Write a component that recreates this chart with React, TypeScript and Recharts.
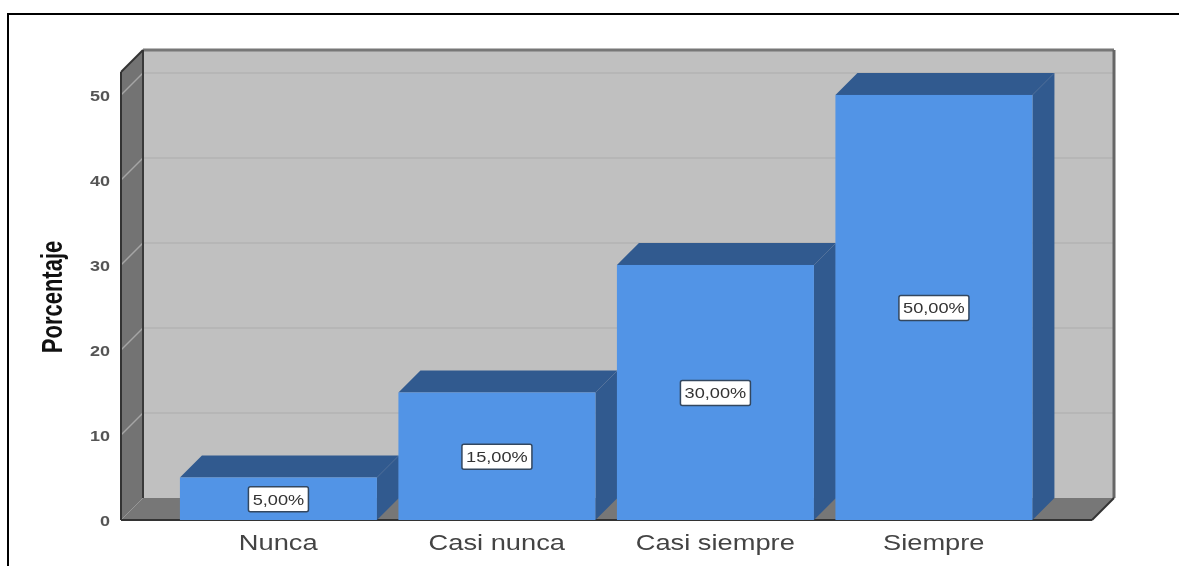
import { BarChart, Bar, XAxis, YAxis, LabelList, Customized } from "recharts";

const categories = ["Nunca", "Casi nunca", "Casi siempre", "Siempre"];
const percentages = [5, 15, 30, 50];
const percentLabels = ["5,00%", "15,00%", "30,00%", "50,00%"];
const yTicks = [0, 10, 20, 30, 40, 50];

const data = categories.map((name, i) => ({
  name,
  value: percentages[i],
  label: percentLabels[i],
}));

const FONT = "'Liberation Sans', Arial, sans-serif";
const DEPTH = 22;
const Y_MAX = 52.7;

// back wall, side wall and floor of the 3d box
const Box = (props: any) => {
  const left = props.offset?.left ?? 121;
  const top = props.offset?.top ?? 72;
  const width = props.offset?.width ?? 971;
  const height = props.offset?.height ?? 448;
  const right = left + width;
  const bottom = top + height;
  const d = DEPTH;
  return (
    <g>
      <rect x={left + d} y={top - d} width={width} height={height} fill="#c0c0c0" />
      <polygon
        points={`${left},${top} ${left + d},${top - d} ${left + d},${bottom - d} ${left},${bottom}`}
        fill="#737373"
      />
      <polygon
        points={`${left},${bottom} ${left + d},${bottom - d} ${right + d},${bottom - d} ${right},${bottom}`}
        fill="#777777"
      />
      {yTicks.slice(1).map((t) => {
        const y = bottom - (t / Y_MAX) * height;
        return (
          <g key={t}>
            <line x1={left + d} x2={right + d} y1={y - d} y2={y - d} stroke="#b6b6b6" strokeWidth={2} />
            <line x1={left} x2={left + d} y1={y} y2={y - d} stroke="#a5a5a5" strokeWidth={1.5} />
          </g>
        );
      })}
      <line x1={left + d} x2={right + d} y1={top - d} y2={top - d} stroke="#777777" strokeWidth={3} />
      <line x1={left + d} x2={left + d} y1={top - d} y2={bottom - d} stroke="#3a3a3a" strokeWidth={2} />
      <line x1={left} x2={left} y1={top} y2={bottom} stroke="#333333" strokeWidth={2} />
      <line x1={left} x2={left + d} y1={top} y2={top - d} stroke="#333333" strokeWidth={2} />
      <line x1={right + d} x2={right + d} y1={top - d} y2={bottom - d} stroke="#666666" strokeWidth={3} />
      <line x1={right} x2={right + d} y1={bottom} y2={bottom - d} stroke="#333333" strokeWidth={2} />
      <line x1={left} x2={right} y1={bottom} y2={bottom} stroke="#333333" strokeWidth={2} />
    </g>
  );
};

const Bar3D = ({ x, y, width, height }: any) => {
  const d = DEPTH;
  const r = x + width;
  const b = y + height;
  return (
    <g>
      <polygon points={`${x},${y} ${x + d},${y - d} ${r + d},${y - d} ${r},${y}`} fill="#315a8f" />
      <polygon points={`${r},${y} ${r + d},${y - d} ${r + d},${b - d} ${r},${b}`} fill="#315a8f" />
      <rect x={x} y={y} width={width} height={height} fill="#5294e6" />
    </g>
  );
};

const BarTag = ({ x, y, width, height, value }: any) => {
  const cx = x + width / 2;
  const cy = y + height / 2 + 1;
  const w = String(value).length > 5 ? 70 : 60;
  return (
    <g>
      <rect x={cx - w / 2} y={cy - 13} width={w} height={25} rx={2} fill="#ffffff" stroke="#33475f" strokeWidth={1.5} />
      <text
        transform={`translate(${cx},${cy + 5}) scale(1.3,1)`}
        textAnchor="middle"
        fontFamily={FONT}
        fontSize={14}
        fill="#333333"
      >
        {value}
      </text>
    </g>
  );
};

const XTick = ({ x, y, payload }: any) => (
  <text
    transform={`translate(${x},${y + 22}) scale(1.24,1)`}
    textAnchor="middle"
    fontFamily={FONT}
    fontSize={22}
    fill="#444444"
  >
    {payload.value}
  </text>
);

const YTick = ({ x, y, payload }: any) => (
  <text
    transform={`translate(${x - 1},${y + 6}) scale(1.2,1)`}
    textAnchor="end"
    fontFamily={FONT}
    fontSize={15}
    fontWeight={700}
    fill="#555555"
  >
    {payload.value}
  </text>
);

const YTitle = () => (
  <text
    transform="translate(62,297) scale(1.3,1) rotate(-90)"
    textAnchor="middle"
    fontFamily={FONT}
    fontSize={22}
    fontWeight={700}
    fill="#111111"
  >
    Porcentaje
  </text>
);

export default function App() {
  return (
    <div
      style={{
        position: "absolute",
        left: 0,
        top: 0,
        width: 1179,
        height: 566,
        overflow: "hidden",
        background: "#fff",
      }}
    >
      <div
        style={{
          position: "absolute",
          left: 7,
          top: 13,
          width: 1190,
          height: 570,
          border: "2px solid #000",
          boxSizing: "border-box",
        }}
      />
      <div style={{ position: "absolute", left: 0, top: 0, filter: "blur(0.5px)" }}>
        <BarChart
          width={1179}
          height={566}
          data={data}
          barCategoryGap="5%"
          margin={{ top: 72, right: 87, bottom: 6, left: 21 }}
        >
          <Customized component={Box} />
          <XAxis
            dataKey="name"
            height={40}
            axisLine={false}
            tickLine={false}
            interval={0}
            padding={{ left: 48, right: 49 }}
            tick={<XTick />}
          />
          <YAxis
            width={100}
            type="number"
            domain={[0, Y_MAX]}
            ticks={yTicks}
            axisLine={false}
            tickLine={false}
            tick={<YTick />}
            tickMargin={4}
            label={<YTitle />}
          />
          <Bar dataKey="value" shape={<Bar3D />} isAnimationActive={false}>
            <LabelList dataKey="label" content={<BarTag />} />
          </Bar>
        </BarChart>
      </div>
    </div>
  );
}
